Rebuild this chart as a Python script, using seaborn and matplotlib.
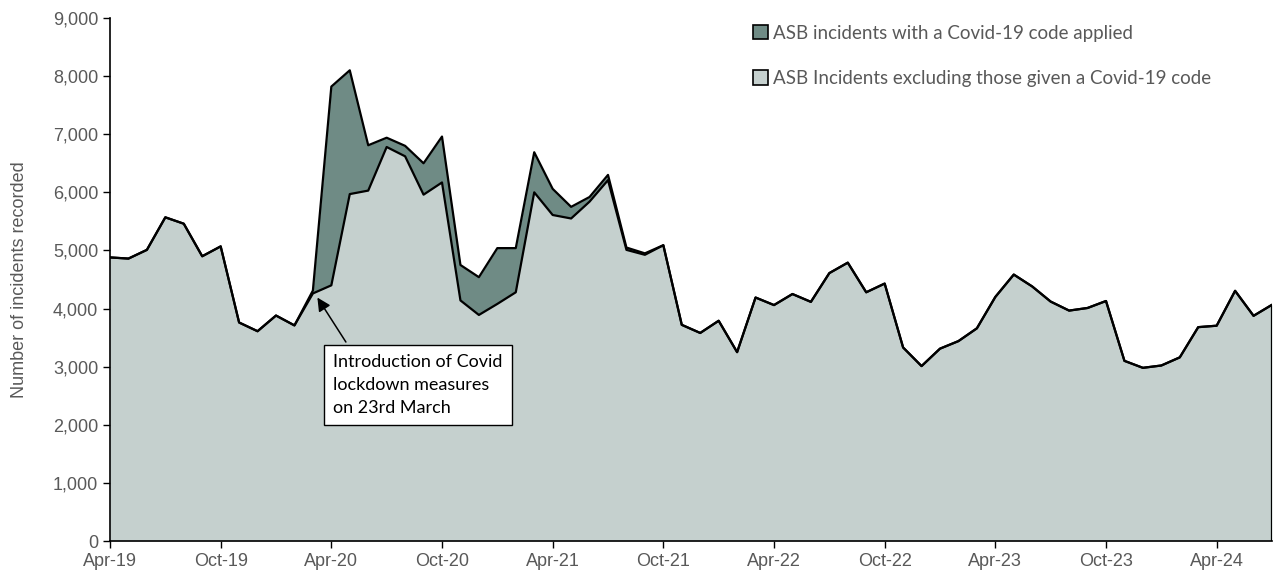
import numpy as np
import pandas as pd
import matplotlib
matplotlib.use("Agg")
import matplotlib.pyplot as plt
from matplotlib.patches import Patch
from matplotlib.ticker import FuncFormatter
import seaborn as sns

# monthly ASB incidents, Apr-19 to Jul-24
month_labels = pd.date_range("2019-04-01", "2024-07-01", freq="MS").strftime("%b-%y").tolist()

excl_covid = [4880, 4860, 5010, 5570, 5460, 4900, 5070, 3760, 3610, 3880, 3710, 4260,
              4400, 5970, 6030, 6780, 6620, 5960, 6170, 4140, 3890, 4080, 4280, 6000,
              5610, 5550, 5840, 6210, 5010, 4925, 5090, 3720, 3580, 3790, 3250, 4190,
              4060, 4250, 4115, 4610, 4790, 4280, 4430, 3330, 3010, 3310, 3440, 3660,
              4200, 4585, 4380, 4120, 3965, 4010, 4130, 3100, 2980, 3020, 3160, 3680,
              3705, 4305, 3875, 4065]

covid_code = [0, 0, 0, 0, 0, 0, 0, 0, 0, 0, 0, 50,
              3420, 2130, 780, 160, 180, 540, 790, 610, 650, 960, 760, 690,
              450, 200, 80, 90, 40, 25, 0, 0, 0, 0, 0, 0,
              0, 0, 0, 0, 0, 0, 0, 0, 0, 0, 0, 0,
              0, 0, 0, 0, 0, 0, 0, 0, 0, 0, 0, 0,
              0, 0, 0, 0]

tick_labels = ["Apr-19", "Oct-19", "Apr-20", "Oct-20", "Apr-21", "Oct-21",
               "Apr-22", "Oct-22", "Apr-23", "Oct-23", "Apr-24"]

df = pd.DataFrame({"month": np.arange(len(month_labels)),
                   "label": month_labels,
                   "excl": excl_covid,
                   "covid": covid_code})
df["total"] = df["excl"] + df["covid"]

light = "#C5D0CE"
dark = "#6F8B85"
grey_text = "#595959"

sns.set_theme(style="ticks")
plt.rcParams["font.family"] = ["Liberation Sans", "DejaVu Sans"]

fig = plt.figure(figsize=(12.74, 5.76), dpi=100)
ax = fig.add_axes([110 / 1274, 35 / 576, 1162 / 1274, 523 / 576])

ax.fill_between(df["month"], 0, df["excl"], color=light, linewidth=0, zorder=1)
ax.fill_between(df["month"], df["excl"], df["total"], color=dark, linewidth=0, zorder=1)
sns.lineplot(data=df, x="month", y="total", color="black", linewidth=1.6, ax=ax, zorder=3)
sns.lineplot(data=df, x="month", y="excl", color="black", linewidth=1.6, ax=ax, zorder=3)
ax.vlines(df["month"].iloc[-1], 0, df["total"].iloc[-1], color="black", linewidth=1.6, zorder=3)

ax.set_xlim(0, df["month"].iloc[-1])
ax.set_ylim(0, 9000)
ax.set_yticks(np.arange(0, 9001, 1000))
ax.yaxis.set_major_formatter(FuncFormatter(lambda v, p: f"{int(v):,}"))
ax.set_xticks(df["month"][::6])
ax.set_xticklabels(tick_labels)

ax.tick_params(axis="both", colors="black", labelcolor=grey_text, labelsize=13,
               length=5, width=1, direction="out")
ax.set_xlabel("")
ax.set_ylabel("Number of incidents recorded", color=grey_text, fontsize=13, labelpad=18)
for s in ["top", "right"]:
    ax.spines[s].set_visible(False)
for s in ["left", "bottom"]:
    ax.spines[s].set_color("black")
    ax.spines[s].set_linewidth(1.2)
    ax.spines[s].set_zorder(4)

# annotation for lockdown start
ax.annotate("Introduction of Covid\nlockdown measures\non 23rd March",
            xy=(df["month"][11], df["total"][11]), xycoords="data",
            xytext=(12.1, 3220), textcoords="data",
            ha="left", va="top", fontsize=13, family="Lato", color="black",
            linespacing=1.56,
            bbox=dict(boxstyle="square,pad=0.5", fc="white", ec="black", lw=1),
            arrowprops=dict(arrowstyle="-|>", color="black", lw=1.1,
                            mutation_scale=20, relpos=(0.12, 1.0), shrinkB=6),
            zorder=5)

handles = [Patch(facecolor=dark, edgecolor="black", linewidth=1.2,
                 label="ASB incidents with a Covid-19 code applied"),
           Patch(facecolor=light, edgecolor="black", linewidth=1.2,
                 label="ASB Incidents excluding those given a Covid-19 code")]
leg = fig.legend(handles=handles, loc="upper left", bbox_to_anchor=(745 / 1274, 1 - 17 / 576),
                 frameon=False, handlelength=0.8, handleheight=0.8, handletextpad=0.3,
                 labelspacing=1.52, borderaxespad=0, prop={"family": "Lato", "size": 13.5})
for t in leg.get_texts():
    t.set_color(grey_text)

fig.savefig("out.png", dpi=100)
